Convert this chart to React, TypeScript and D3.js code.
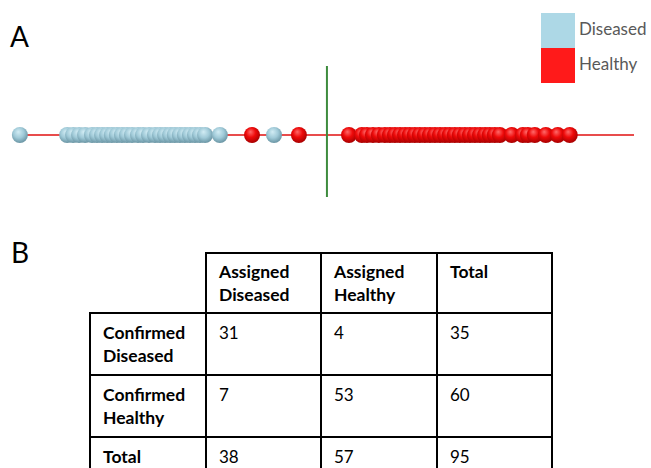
import { useEffect, useRef } from 'react';
import * as d3 from 'd3';

// discriminant scores (threshold at 0)
const diseasedScores = [
  -0.975, -0.825, -0.806, -0.787, -0.768, -0.746, -0.73, -0.714, -0.698, -0.683,
  -0.667, -0.651, -0.635, -0.619, -0.6, -0.584, -0.565, -0.546, -0.53, -0.514,
  -0.498, -0.483, -0.467, -0.451, -0.435, -0.419, -0.403, -0.387, -0.34, -0.168,
];
const healthyScores = [
  -0.238, -0.089, 0.07, 0.111, 0.127, 0.146, 0.165, 0.184, 0.2, 0.216, 0.232,
  0.248, 0.263, 0.279, 0.295, 0.311, 0.327, 0.343, 0.359, 0.375, 0.39, 0.406,
  0.422, 0.438, 0.454, 0.47, 0.486, 0.502, 0.517, 0.533, 0.549, 0.587, 0.622,
  0.638, 0.66, 0.695, 0.733, 0.771,
];
const threshold = 0;

const legendLabels = ['Diseased', 'Healthy'];
const legendColors = ['#add8e6', '#ff1a1a'];

const colHeaders = [['Assigned', 'Diseased'], ['Assigned', 'Healthy'], ['Total']];
const rowHeaders = [['Confirmed', 'Diseased'], ['Confirmed', 'Healthy'], ['Total']];
const cellValues = [
  [31, 4, 35],
  [7, 53, 60],
  [38, 57, 95],
];

export default function App() {
  const svgRef = useRef<SVGSVGElement>(null);

  useEffect(() => {
    if (!svgRef.current) return;
    const svg = d3.select(svgRef.current);
    svg.selectAll('*').remove();

    const defs = svg.append('defs');
    const grad = (id: string, stops: [number, string][]) => {
      const g = defs.append('radialGradient')
        .attr('id', id)
        .attr('cx', '45%').attr('cy', '40%').attr('r', '60%')
        .attr('fx', '40%').attr('fy', '30%');
      stops.forEach(([o, c]) => g.append('stop').attr('offset', o + '%').attr('stop-color', c));
    };
    grad('sph-blue', [[0, '#d2ecf4'], [55, '#a0cad8'], [100, '#6a95a4']]);
    grad('sph-red', [[0, '#ff6a6a'], [50, '#ee0a0a'], [100, '#a80000']]);

    // ---- panel A
    const x = d3.scaleLinear().domain([-1, 0.975]).range([12, 634]);
    const cy = 135;

    svg.append('text').attr('x', 10).attr('y', 47)
      .style('font-family', 'Lato, sans-serif').style('font-size', '28px')
      .text('A');

    svg.append('line')
      .attr('x1', x.range()[0]).attr('x2', x.range()[1])
      .attr('y1', cy).attr('y2', cy)
      .attr('stroke', '#e01010').attr('stroke-width', 1.3);

    svg.append('line')
      .attr('x1', x(threshold)).attr('x2', x(threshold))
      .attr('y1', 66).attr('y2', 197)
      .attr('stroke', '#3d8b3d').attr('stroke-width', 2);

    const points = [
      ...diseasedScores.map(v => ({ v, cls: 'blue' })),
      ...healthyScores.map(v => ({ v, cls: 'red' })),
    ].sort((a, b) => a.v - b.v);

    svg.append('g').selectAll('circle')
      .data(points)
      .join('circle')
      .attr('cx', d => x(d.v))
      .attr('cy', cy)
      .attr('r', 8)
      .attr('fill', d => `url(#sph-${d.cls})`);

    // legend
    const lg = svg.append('g').attr('transform', 'translate(541,13)');
    legendLabels.forEach((lab, i) => {
      lg.append('rect').attr('x', 0).attr('y', i * 35).attr('width', 34).attr('height', 35)
        .attr('fill', legendColors[i]);
      lg.append('text').attr('x', 38).attr('y', i * 35 + 22)
        .style('font-family', 'Lato, sans-serif').style('font-size', '17px')
        .attr('fill', '#595959')
        .text(lab);
    });

    // ---- panel B
    svg.append('text').attr('x', 11).attr('y', 263)
      .style('font-family', 'Lato, sans-serif').style('font-size', '28px')
      .text('B');

    const colX = [90, 206, 321, 437, 552];
    const rowY = [253, 313, 375, 437, 499];
    const tb = svg.append('g');
    const line = (x1: number, y1: number, x2: number, y2: number) =>
      tb.append('line').attr('x1', x1).attr('y1', y1).attr('x2', x2).attr('y2', y2)
        .attr('stroke', '#000').attr('stroke-width', 2).attr('stroke-linecap', 'square');

    line(colX[1], rowY[0], colX[4], rowY[0]);
    for (let r = 1; r < rowY.length; r++) line(colX[0], rowY[r], colX[4], rowY[r]);
    line(colX[0], rowY[1], colX[0], rowY[4]);
    for (let c = 1; c < colX.length; c++) line(colX[c], rowY[0], colX[c], rowY[4]);

    const txt = (lines: string[], px: number, py: number, bold: boolean) => {
      const t = tb.append('text')
        .style('font-family', 'Lato, sans-serif').style('font-size', bold ? '17.5px' : '17px')
        .style('font-weight', bold ? 700 : 400)
        .attr('fill', '#000');
      lines.forEach((l, i) => t.append('tspan').attr('x', px).attr('y', py + i * 23).text(l));
    };

    colHeaders.forEach((h, c) => txt(h, colX[c + 1] + 13, rowY[0] + 25, true));
    rowHeaders.forEach((h, r) => txt(h, colX[0] + 13, rowY[r + 1] + 26, true));
    cellValues.forEach((row, r) =>
      row.forEach((v, c) => txt([String(v)], colX[c + 1] + 13, rowY[r + 1] + 26, false)));
  }, []);

  return (
    <svg
      ref={svgRef}
      width={651}
      height={468}
      style={{ position: 'fixed', left: 0, top: 0, background: '#fff' }}
    />
  );
}
